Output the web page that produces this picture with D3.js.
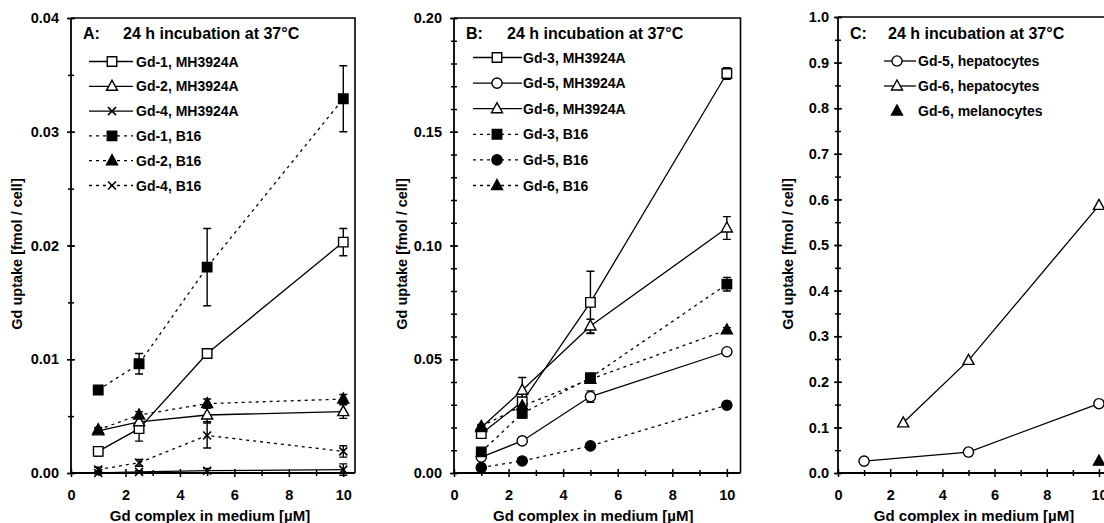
<!DOCTYPE html>
<html>
<head>
<meta charset="utf-8">
<script src="https://cdn.jsdelivr.net/npm/d3@7"></script>
<style>
  body { margin: 0; background: #fff; }
  svg { display: block; font-family: "Liberation Sans", Arial, sans-serif; font-weight: bold; }
</style>
</head>
<body>
<svg width="1104" height="523"></svg>
<script>
// concentrations (µM)
const conc = [1, 2.5, 5, 10];
const concC5 = [1, 5, 10];
const concC6 = [2.5, 5, 10];
const concMel = [10];

// panel A values and errors (fmol / cell)
const gd1MH = [0.0019, 0.0039, 0.0105, 0.0203];
const gd1MHErr = [0.0004, 0.0011, 0.0002, 0.0012];
const gd2MH = [0.0037, 0.0045, 0.0051, 0.0054];
const gd2MHErr = [0.0002, 0.0003, 0.0006, 0.0006];
const gd4MH = [0.0000, 0.0001, 0.0002, 0.0003];
const gd4MHErr = [0.0001, 0.0001, 0.0002, 0.0005];
const gd1B16 = [0.0073, 0.0096, 0.0181, 0.0329];
const gd1B16Err = [0.0003, 0.0009, 0.0034, 0.0029];
const gd2B16 = [0.0038, 0.0051, 0.0061, 0.0065];
const gd2B16Err = [0.0002, 0.0003, 0.0004, 0.0004];
const gd4B16 = [0.0003, 0.0009, 0.0033, 0.0019];
const gd4B16Err = [0.0002, 0.0003, 0.0011, 0.0005];

// panel B
const gd3MH = [0.0173, 0.0313, 0.0750, 0.1756];
const gd3MHErr = [0.001, 0.004, 0.0137, 0.0025];
const gd5MH = [0.0070, 0.0141, 0.0336, 0.0533];
const gd5MHErr = [0.0005, 0.0008, 0.0025, 0.0012];
const gd6MH = [0.0200, 0.0364, 0.0646, 0.1077];
const gd6MHErr = [0.001, 0.0056, 0.003, 0.005];
const gd3B16 = [0.0093, 0.0262, 0.0419, 0.0830];
const gd3B16Err = [0.0008, 0.002, 0.001, 0.003];
const gd5B16 = [0.0024, 0.0053, 0.0119, 0.0298];
const gd5B16Err = [0.0004, 0.0005, 0.0008, 0.001];
const gd6B16 = [0.0205, 0.0295, 0.0412, 0.0629];
const gd6B16Err = [0.0008, 0.001, 0.001, 0.001];

// panel C
const gd5Hep = [0.026, 0.046, 0.152];
const gd6Hep = [0.110, 0.247, 0.587];
const gd6Mel = [0.026];

// tick values
const xTicks = [0, 2, 4, 6, 8, 10];
const xMinor = [1, 3, 5, 7, 9];
const yTicksA = [0, 0.01, 0.02, 0.03, 0.04];
const yTicksB = [0, 0.05, 0.10, 0.15, 0.20];
const yTicksC = [0, 0.1, 0.2, 0.3, 0.4, 0.5, 0.6, 0.7, 0.8, 0.9, 1.0];

const title = '24 h incubation at 37°C';
const yTitle = 'Gd uptake [fmol / cell]';
const xTitle = 'Gd complex in medium [µM]';

const svg = d3.select('svg');

function series(label, xs, ys, errs, shape, filled, dotted) {
  return { label, shape, filled, dotted,
    points: xs.map((x, i) => ({ x, y: ys[i], e: errs ? errs[i] : 0 })) };
}

function markerPath(shape) {
  if (shape === 'square') return d3.symbol(d3.symbolSquare, 90)();
  if (shape === 'circle') return d3.symbol(d3.symbolCircle, 82)();
  if (shape === 'triangle') return 'M0,-6L5.5,4L-5.5,4Z';
  if (shape === 'x') return 'M-4,-4L4,4M-4,4L4,-4';
  return '';
}

function drawMarker(g, shape, filled, x, y) {
  g.append('path')
    .attr('d', markerPath(shape))
    .attr('transform', `translate(${x},${y})`)
    .attr('fill', shape === 'x' ? 'none' : (filled ? '#000' : '#fff'))
    .attr('stroke', '#000')
    .attr('stroke-width', shape === 'x' ? 1.6 : 1.4);
}

function drawPanel(p) {
  const x = d3.scaleLinear().domain([0, p.xMax]).range([p.left, p.right]);
  const y = d3.scaleLinear().domain([0, p.yMax]).range([p.bottom, p.top]);
  const g = svg.append('g');

  // frame (top and right)
  g.append('path')
    .attr('d', `M${p.left},${p.top}H${p.right}V${p.bottom}`)
    .attr('fill', 'none').attr('stroke', '#000').attr('stroke-width', 1.6);

  // axes
  const yAx = g.append('g').attr('transform', `translate(${p.left},0)`)
    .call(d3.axisLeft(y).tickValues(p.yTicks).tickFormat(d3.format(p.fmt)).tickSize(4).tickPadding(p.yPad));
  const yMinor = g.append('g').attr('transform', `translate(${p.left},0)`)
    .call(d3.axisLeft(y).tickValues(d3.range(0, p.yMax + 1e-9, p.yMinor)).tickFormat('').tickSize(3));
  const xAx = g.append('g').attr('transform', `translate(0,${p.bottom})`)
    .call(d3.axisBottom(x).tickValues(xTicks).tickSize(4).tickPadding(13));
  const xMin = g.append('g').attr('transform', `translate(0,${p.bottom})`)
    .call(d3.axisBottom(x).tickValues(xMinor).tickFormat('').tickSize(3));
  [yAx, yMinor, xAx, xMin].forEach(a => {
    a.select('.domain').remove();
    a.selectAll('.tick line').attr('stroke-width', 1.5);
    a.selectAll('text').attr('font-size', 14.5).attr('font-family', null).attr('fill', '#000');
  });
  yAx.selectAll('.tick line').attr('x1', 4);
  yMinor.selectAll('.tick line').attr('x1', 3);
  xAx.selectAll('.tick line').attr('y1', -4);
  xMin.selectAll('.tick line').attr('y1', -3);
  g.append('path')
    .attr('d', `M${p.left},${p.top}V${p.bottom}H${p.right}`)
    .attr('fill', 'none').attr('stroke', '#000').attr('stroke-width', 1.8);

  // axis titles
  g.append('text')
    .attr('x', (p.left + Math.min(p.right, 1104)) / 2 + p.xTitleShift).attr('y', 521)
    .attr('text-anchor', 'middle').attr('font-size', 15).text(xTitle);
  g.append('text')
    .attr('transform', `translate(${p.yTitleX},${254}) rotate(-90)`)
    .attr('text-anchor', 'middle').attr('font-size', 14.5).text(yTitle);

  // panel title
  g.append('text').attr('x', p.left + 12).attr('y', 39).attr('font-size', 16).text(p.letter + ':');
  g.append('text').attr('x', p.left + p.titleDx).attr('y', 39).attr('font-size', 16).text(title);

  // data
  const line = d3.line().x(d => x(d.x)).y(d => y(d.y));
  p.series.forEach(s => {
    g.append('path').datum(s.points)
      .attr('d', line).attr('fill', 'none').attr('stroke', '#000')
      .attr('stroke-width', 1.3)
      .attr('stroke-dasharray', s.dotted ? '3,4' : null);
  });
  p.series.forEach(s => {
    s.points.filter(d => d.e > 0).forEach(d => {
      const cx = x(d.x), y0 = y(d.y - d.e), y1 = y(d.y + d.e);
      g.append('path')
        .attr('d', `M${cx},${y0}V${y1}M${cx - 4},${y0}H${cx + 4}M${cx - 4},${y1}H${cx + 4}`)
        .attr('stroke', '#000').attr('stroke-width', 1.4).attr('fill', 'none');
    });
  });
  p.series.forEach(s => {
    s.points.forEach(d => drawMarker(g, s.shape, s.filled, x(d.x), y(d.y)));
  });

  // legend
  p.series.forEach((s, i) => {
    const ly = p.legTop + i * p.legStep;
    const L = p.leg;
    if (!s.noLine) {
      g.append('line')
        .attr('x1', p.left + L[0]).attr('x2', p.left + L[2])
        .attr('y1', ly).attr('y2', ly)
        .attr('stroke', '#000').attr('stroke-width', 1.3)
        .attr('stroke-dasharray', s.dotted ? '3,4' : null);
    }
    drawMarker(g, s.shape, s.filled, p.left + L[1], ly);
    g.append('text').attr('x', p.left + L[3]).attr('y', ly + 5)
      .attr('font-size', 14).text(s.label);
  });
}

drawPanel({
  letter: 'A', left: 71, right: 355, top: 18, bottom: 473, xMax: 10.43, yMax: 0.04,
  yTicks: yTicksA, yMinor: 0.005, fmt: '.2f', yPad: 8, yTitleX: 22, xTitleShift: -3, titleDx: 52,
  legTop: 61.5, legStep: 24.8, leg: [18, 41, 62, 65],
  series: [
    series('Gd-1, MH3924A', conc, gd1MH, gd1MHErr, 'square', false, false),
    series('Gd-2, MH3924A', conc, gd2MH, gd2MHErr, 'triangle', false, false),
    series('Gd-4, MH3924A', conc, gd4MH, gd4MHErr, 'x', false, false),
    series('Gd-1, B16', conc, gd1B16, gd1B16Err, 'square', true, true),
    series('Gd-2, B16', conc, gd2B16, gd2B16Err, 'triangle', true, true),
    series('Gd-4, B16', conc, gd4B16, gd4B16Err, 'x', false, true)
  ]
});

drawPanel({
  letter: 'B', left: 454, right: 740.5, top: 18, bottom: 473, xMax: 10.5, yMax: 0.2,
  yTicks: yTicksB, yMinor: 0.01, fmt: '.2f', yPad: 8, yTitleX: 406.5, xTitleShift: -4, titleDx: 53,
  legTop: 57.5, legStep: 25.6, leg: [19, 43, 68, 69],
  series: [
    series('Gd-3, MH3924A', conc, gd3MH, gd3MHErr, 'square', false, false),
    series('Gd-5, MH3924A', conc, gd5MH, gd5MHErr, 'circle', false, false),
    series('Gd-6, MH3924A', conc, gd6MH, gd6MHErr, 'triangle', false, false),
    series('Gd-3, B16', conc, gd3B16, gd3B16Err, 'square', true, true),
    series('Gd-5, B16', conc, gd5B16, gd5B16Err, 'circle', true, true),
    series('Gd-6, B16', conc, gd6B16, gd6B16Err, 'triangle', true, true)
  ]
});

const melSeries = series('Gd-6, melanocytes', concMel, gd6Mel, null, 'triangle', true, false);
melSeries.noLine = true;
drawPanel({
  letter: 'C', left: 838, right: 1112, top: 17, bottom: 473, xMax: 10.5, yMax: 1.0,
  yTicks: yTicksC, yMinor: 0.05, fmt: '.1f', yPad: 5, yTitleX: 793, xTitleShift: 3, titleDx: 50,
  legTop: 61, legStep: 25, leg: [46, 59, 78, 80],
  series: [
    series('Gd-5, hepatocytes', concC5, gd5Hep, null, 'circle', false, false),
    series('Gd-6, hepatocytes', concC6, gd6Hep, null, 'triangle', false, false),
    melSeries
  ]
});
</script>
</body>
</html>
